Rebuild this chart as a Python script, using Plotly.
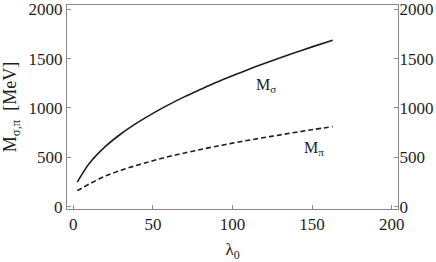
import plotly.graph_objects as go

lam = [2.5, 5, 10, 20, 30, 40, 50, 60, 70, 80, 90, 100, 110, 120, 130, 140, 150, 163]
m_sigma = [250, 318, 438, 608, 739, 849, 946, 1034, 1115, 1189, 1261, 1327, 1391, 1451, 1509, 1565, 1619, 1687]
m_pi = [165, 185, 230, 310, 370, 420, 466, 508, 545, 580, 613, 644, 673, 701, 728, 755, 780, 811]
x_ticks = [0, 50, 100, 150, 200]
y_ticks = [0, 500, 1000, 1500, 2000]

FONT = "Liberation Serif, Times New Roman, DejaVu Serif, serif"
INK = "#1e1e1e"
FRAME = "#8a8a8a"

fig = go.Figure()
fig.add_trace(go.Scatter(x=lam, y=m_sigma, mode="lines", line=dict(color=INK, width=1.6, shape="spline"),
                         showlegend=False, hoverinfo="skip"))
fig.add_trace(go.Scatter(x=lam, y=m_pi, mode="lines", line=dict(color=INK, width=1.6, dash="5px,3px", shape="spline"),
                         showlegend=False, hoverinfo="skip"))
fig.add_trace(go.Scatter(x=[lam[0]], y=[m_pi[0]], yaxis="y2", mode="markers", marker=dict(opacity=0),
                         showlegend=False, hoverinfo="skip"))

axis_common = dict(showgrid=False, zeroline=False, showline=True, linecolor=FRAME, linewidth=1,
                   ticks="inside", ticklen=4, tickcolor=FRAME, automargin=False,
                   tickfont=dict(family=FONT, size=17, color=INK))

fig.update_layout(
    width=436, height=262,
    margin=dict(l=67, r=38, t=5, b=53),
    paper_bgcolor="white", plot_bgcolor="white",
    font=dict(family=FONT, color=INK),
    xaxis=dict(range=[-4, 204], tickvals=x_ticks, mirror=True,
               title=dict(text="λ<sub>0</sub>", font=dict(family=FONT, size=17, color=INK), standoff=12),
               **axis_common),
    yaxis=dict(range=[-23, 2043], tickvals=y_ticks,
               title=dict(text="M<sub>σ,π</sub>  [MeV]", font=dict(family=FONT, size=18, color=INK), standoff=7),
               **axis_common),
    yaxis2=dict(range=[-23, 2043], tickvals=y_ticks, overlaying="y", side="right",
                ticklabelstandoff=-3, **axis_common),
    annotations=[
        dict(x=121, y=1230, xref="x", yref="y", text="M<sub>σ</sub>", showarrow=False,
             font=dict(family=FONT, size=16, color=INK)),
        dict(x=151, y=585, xref="x", yref="y", text="M<sub>π</sub>", showarrow=False,
             font=dict(family=FONT, size=16, color=INK)),
    ],
)

fig.write_html("out.html", config={"displayModeBar": False},
               post_script="document.body.style.margin='0';")
